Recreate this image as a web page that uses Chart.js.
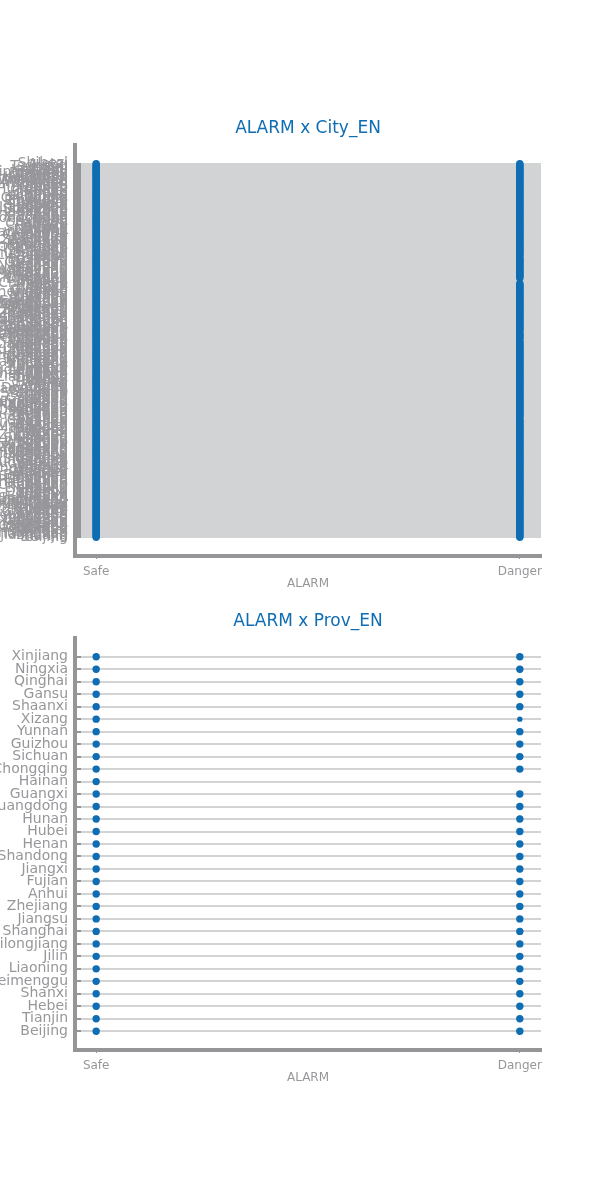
<!DOCTYPE html>
<html>
<head>
<meta charset="utf-8">
<script src="https://cdn.jsdelivr.net/npm/chart.js@4.4.1/dist/chart.umd.min.js"></script>
<style>
  html, body { margin: 0; padding: 0; background: #ffffff; }
  .box { width: 600px; height: 600px; position: relative; }
  canvas { display: block; }
</style>
</head>
<body>
<div class="box"><canvas id="cityChart" width="600" height="600"></canvas></div>
<div class="box"><canvas id="provChart" width="600" height="600"></canvas></div>
<script>
// ---------- DATA ----------
const alarmLevels = ['Safe', 'Danger'];

// Provinces, bottom to top
const provinces = ['Beijing','Tianjin','Hebei','Shanxi','Neimenggu','Liaoning','Jilin','Heilongjiang',
  'Shanghai','Jiangsu','Zhejiang','Anhui','Fujian','Jiangxi','Shandong','Henan','Hubei','Hunan',
  'Guangdong','Guangxi','Hainan','Chongqing','Sichuan','Guizhou','Yunnan','Xizang','Shaanxi',
  'Gansu','Qinghai','Ningxia','Xinjiang'];
// 1 = a record exists at that alarm level
const provinceSafe   = [1,1,1,1,1,1,1,1,1,1,1,1,1,1,1,1,1,1,1,1,1,1,1,1,1,1,1,1,1,1,1];
const provinceDanger = [1,1,1,1,1,1,1,1,1,1,1,1,1,1,1,1,1,1,1,1,0,1,1,1,1,1,1,1,1,1,1];
const provinceSmallDanger = ['Xizang'];

// Cities, bottom to top (grouped by province)
const cities = [
  'Beijing','Tianjin',
  'Shijiazhuang','Tangshan','Qinhuangdao','Handan','Xingtai','Baoding','Zhangjiakou','Chengde','Cangzhou','Langfang','Hengshui',
  'Taiyuan','Datong','Yangquan','Changzhi','Jincheng','Shuozhou','Jinzhong','Yuncheng','Xinzhou','Linfen','Lvliang',
  'Huhehaote','Baotou','Wuhai','Chifeng','Tongliao','Eerduosi','Hulunbeier','Bayannaoer','Wulanchabu','Xinganmeng','Xilinguolemeng','Alashanmeng',
  'Shenyang','Dalian','Anshan','Fushun','Benxi','Dandong','Jinzhou','Yingkou','Fuxin','Liaoyang','Panjin','Tieling','Chaoyang','Huludao',
  'Changchun','Jilin','Siping','Liaoyuan','Tonghua','Baishan','Songyuan','Baicheng','Yanbian',
  'Haerbin','Qiqihaer','Jixi','Hegang','Shuangyashan','Daqing','Yichun','Jiamusi','Qitaihe','Mudanjiang','Heihe','Suihua','Daxinganling',
  'Shanghai',
  'Nanjing','Wuxi','Xuzhou','Changzhou','Suzhou','Nantong','Lianyungang','Huaian','Yancheng','Yangzhou','Zhenjiang','Taizhou','Suqian',
  'Hangzhou','Ningbo','Wenzhou','Jiaxing','Huzhou','Shaoxing','Jinhua','Quzhou','Zhoushan','Taizhou','Lishui',
  'Hefei','Wuhu','Bengbu','Huainan','Maanshan','Huaibei','Tongling','Anqing','Huangshan','Chuzhou','Fuyang','Suzhou','Luan','Bozhou','Chizhou','Xuancheng',
  'Fuzhou','Xiamen','Putian','Sanming','Quanzhou','Zhangzhou','Nanping','Longyan','Ningde',
  'Nanchang','Jingdezhen','Pingxiang','Jiujiang','Xinyu','Yingtan','Ganzhou','Jian','Yichun','Fuzhou','Shangrao',
  'Jinan','Qingdao','Zibo','Zaozhuang','Dongying','Yantai','Weifang','Jining','Taian','Weihai','Rizhao','Laiwu','Linyi','Dezhou','Liaocheng','Binzhou','Heze',
  'Zhengzhou','Kaifeng','Luoyang','Pingdingshan','Anyang','Hebi','Xinxiang','Jiaozuo','Puyang','Xuchang','Luohe','Sanmenxia','Nanyang','Shangqiu','Xinyang','Zhoukou','Zhumadian','Jiyuan',
  'Wuhan','Huangshi','Shiyan','Yichang','Xiangyang','Ezhou','Jingmen','Xiaogan','Jingzhou','Huanggang','Xianning','Suizhou','Enshi','Xiantao','Qianjiang','Tianmen','Shennongjia',
  'Changsha','Zhuzhou','Xiangtan','Hengyang','Shaoyang','Yueyang','Changde','Zhangjiajie','Yiyang','Chenzhou','Yongzhou','Huaihua','Loudi','Xiangxi',
  'Guangzhou','Shaoguan','Shenzhen','Zhuhai','Shantou','Foshan','Jiangmen','Zhanjiang','Maoming','Zhaoqing','Huizhou','Meizhou','Shanwei','Heyuan','Yangjiang','Qingyuan','Dongguan','Zhongshan','Chaozhou','Jieyang','Yunfu',
  'Nanning','Liuzhou','Guilin','Wuzhou','Beihai','Fangchenggang','Qinzhou','Guigang','Yulin','Baise','Hezhou','Hechi','Laibin','Chongzuo',
  'Haikou','Sanya','Sansha','Danzhou',
  'Chongqing',
  'Chengdu','Zigong','Panzhihua','Luzhou','Deyang','Mianyang','Guangyuan','Suining','Neijiang','Leshan','Nanchong','Meishan','Yibin','Guangan','Dazhou','Yaan','Bazhong','Ziyang','Aba','Ganzi','Liangshan',
  'Guiyang','Liupanshui','Zunyi','Anshun','Bijie','Tongren','Qianxinan','Qiandongnan','Qiannan',
  'Kunming','Qujing','Yuxi','Baoshan','Zhaotong','Lijiang','Puer','Lincang','Chuxiong','Honghe','Wenshan','Xishuangbanna','Dali','Dehong','Nujiang','Diqing',
  'Lasa','Rikaze','Changdu','Linzhi','Shannan','Naqu','Ali',
  'Xian','Tongchuan','Baoji','Xianyang','Weinan','Yanan','Hanzhong','Yulin','Ankang','Shangluo',
  'Lanzhou','Jiayuguan','Jinchang','Baiyin','Tianshui','Wuwei','Zhangye','Pingliang','Jiuquan','Qingyang','Dingxi','Longnan','Linxia','Gannan',
  'Xining','Haidong','Haibei','Huangnan','Hainan','Guoluo','Yushu','Haixi',
  'Yinchuan','Shizuishan','Wuzhong','Guyuan','Zhongwei',
  'Wulumuqi','Kelamayi','Tulufan','Hami','Changji','Boertala','Bayinguoleng','Akesu','Kezilesu','Kashi','Hetian','Yili','Tacheng','Aletai','Shihezi'
];
// Cities with no "Danger" record (all others have both levels)
const cityNoDanger = ['Haikou','Sanya','Sansha','Danzhou','Ganzi','Xiantao','Hengyang','Luan'];

// ---------- STYLE ----------
const BLUE = '#0f6db3';
const AXIS_GREY = '#959598';
const TEXT_GREY = '#97979b';
const GRID_GREY = '#d2d3d5';
const EXPAND = 0.05;

function makeChart(canvasId, title, names, points, radii, padTop, padBottom) {
  const n = names.length - 1;
  return new Chart(document.getElementById(canvasId), {
    type: 'scatter',
    data: {
      datasets: [{
        data: points,
        backgroundColor: BLUE,
        borderWidth: 0,
        pointRadius: radii,
        pointHoverRadius: radii
      }]
    },
    options: {
      responsive: false,
      animation: false,
      devicePixelRatio: 1,
      layout: { padding: { top: padTop, bottom: padBottom, left: 0, right: 59 } },
      plugins: {
        legend: { display: false },
        tooltip: { enabled: false },
        title: {
          display: true,
          text: title,
          fullSize: false,
          color: BLUE,
          font: { family: 'DejaVu Sans', size: 17, weight: 'normal' },
          padding: { top: 0, bottom: 5.8 }
        }
      },
      scales: {
        x: {
          type: 'linear',
          min: -EXPAND,
          max: 1 + EXPAND,
          afterBuildTicks: (s) => { s.ticks = alarmLevels.map((_, i) => ({ value: i })); },
          afterFit: (s) => { s.height = 44; },
          ticks: {
            autoSkip: false,
            callback: (v) => alarmLevels[v],
            color: TEXT_GREY,
            font: { family: 'DejaVu Sans', size: 12 },
            padding: 6,
            maxRotation: 0
          },
          grid: { display: true, drawOnChartArea: false, tickLength: 3, tickColor: AXIS_GREY, tickWidth: 1, color: AXIS_GREY },
          border: { display: true, color: AXIS_GREY, width: 4 },
          title: {
            display: true,
            text: 'ALARM',
            color: TEXT_GREY,
            font: { family: 'DejaVu Sans', size: 12 },
            padding: { top: 0, bottom: 8.8 }
          }
        },
        y: {
          type: 'linear',
          min: -EXPAND * n,
          max: n * (1 + EXPAND),
          afterBuildTicks: (s) => { s.ticks = names.map((_, i) => ({ value: i })); },
          afterFit: (s) => { s.width = 75; },
          ticks: {
            autoSkip: false,
            callback: (v) => names[v],
            color: TEXT_GREY,
            font: { family: 'DejaVu Sans', size: 14 },
            padding: 13
          },
          grid: { display: true, color: GRID_GREY, lineWidth: 2, tickLength: -6, tickColor: AXIS_GREY, tickWidth: 2 },
          border: { display: true, color: AXIS_GREY, width: 4 }
        }
      }
    }
  });
}

// City chart points
const cityPoints = [];
const cityRadii = [];
cities.forEach((c, i) => {
  cityPoints.push({ x: 0, y: i }); cityRadii.push(3.7);
});
cities.forEach((c, i) => {
  if (!cityNoDanger.includes(c)) { cityPoints.push({ x: 1, y: i }); cityRadii.push(3.7); }
});

// Province chart points
const provPoints = [];
const provRadii = [];
provinces.forEach((p, i) => {
  if (provinceSafe[i]) { provPoints.push({ x: 0, y: i }); provRadii.push(3.7); }
  if (provinceDanger[i]) { provPoints.push({ x: 1, y: i }); provRadii.push(provinceSmallDanger.includes(p) ? 2.7 : 3.7); }
});

makeChart('cityChart', 'ALARM x City_EN', cities, cityPoints, cityRadii, 118.8, 0);
makeChart('provChart', 'ALARM x Prov_EN', provinces, provPoints, provRadii, 11.8, 106);
</script>
</body>
</html>
